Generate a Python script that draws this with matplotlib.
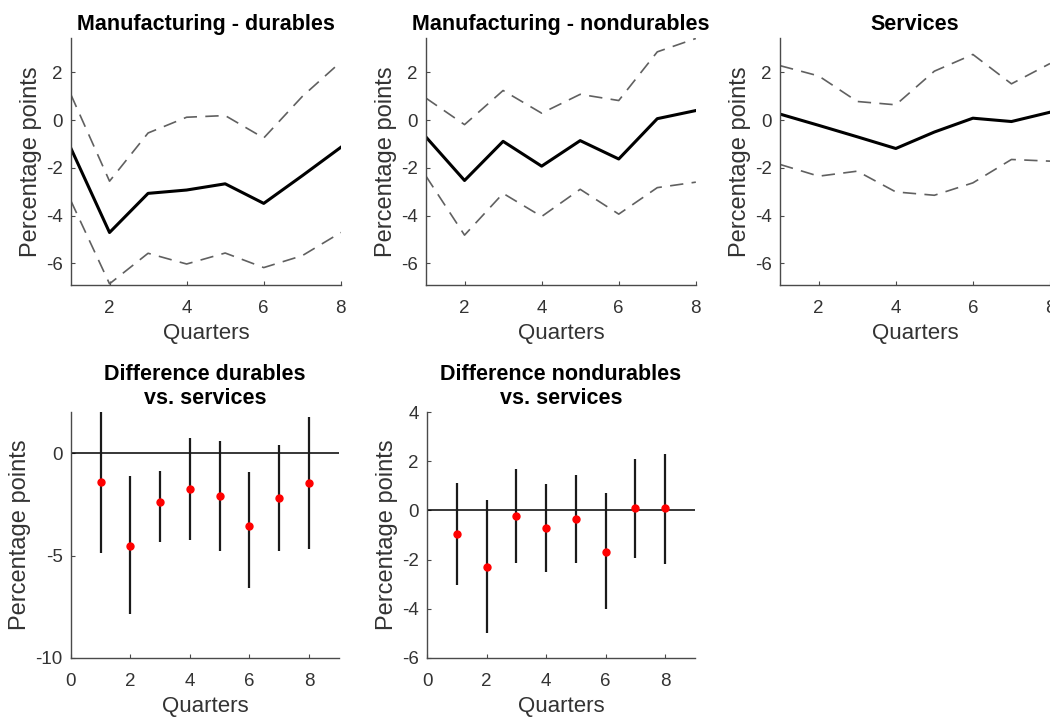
import matplotlib
matplotlib.use("Agg")
import matplotlib.pyplot as plt

plt.rcParams['font.family'] = ['Liberation Sans', 'DejaVu Sans']
plt.rcParams['axes.unicode_minus'] = False

# ------------------------
# data
# ------------------------
quarters = [1, 2, 3, 4, 5, 6, 7, 8]

dur_mid = [-1.19, -4.71, -3.07, -2.93, -2.67, -3.49, -2.33, -1.14]
dur_hi = [1.06, -2.56, -0.54, 0.12, 0.19, -0.75, 0.99, 2.44]
dur_lo = [-3.39, -6.86, -5.58, -6.03, -5.57, -6.18, -5.68, -4.71]

nondur_mid = [-0.71, -2.53, -0.89, -1.93, -0.86, -1.63, 0.06, 0.40]
nondur_hi = [0.92, -0.19, 1.24, 0.29, 1.08, 0.82, 2.86, 3.42]
nondur_lo = [-2.35, -4.82, -3.07, -4.04, -2.90, -3.94, -2.83, -2.60]

serv_mid = [0.25, -0.22, -0.70, -1.19, -0.50, 0.08, -0.06, 0.33]
serv_hi = [2.28, 1.85, 0.78, 0.64, 2.05, 2.75, 1.52, 2.37]
serv_lo = [-1.86, -2.35, -2.14, -3.01, -3.15, -2.63, -1.65, -1.72]

diff_dur = [-1.43, -4.52, -2.41, -1.76, -2.11, -3.54, -2.20, -1.46]
diff_dur_hi = [2.05, -1.14, -0.89, 0.73, 0.57, -0.94, 0.41, 1.74]
diff_dur_lo = [-4.88, -7.84, -4.36, -4.23, -4.80, -6.59, -4.76, -4.67]

diff_nondur = [-0.97, -2.28, -0.23, -0.70, -0.34, -1.68, 0.11, 0.08]
diff_nondur_hi = [1.12, 0.41, 1.70, 1.08, 1.46, 0.69, 2.11, 2.30]
diff_nondur_lo = [-3.04, -4.99, -2.15, -2.50, -2.15, -4.01, -1.92, -2.16]

top_titles = ["Manufacturing - durables", "Manufacturing - nondurables", "Services"]
bottom_titles = ["Difference durables\nvs. services", "Difference nondurables\nvs. services"]

AX_COL = "#4a4a4a"
TXT_COL = "#333333"


def style_axes(ax):
    for s in ["top", "right"]:
        ax.spines[s].set_visible(False)
    for s in ["left", "bottom"]:
        ax.spines[s].set_color(AX_COL)
        ax.spines[s].set_linewidth(1.0)
    ax.tick_params(direction="in", length=3, colors=AX_COL, labelcolor=TXT_COL,
                   labelsize=13.5)
    ax.tick_params(axis="x", pad=11)
    ax.tick_params(axis="y", pad=6)
    ax.set_xlabel("Quarters", fontsize=16, color=TXT_COL, labelpad=4)
    ax.set_ylabel("Percentage points", fontsize=17, color=TXT_COL, labelpad=3)


fig = plt.figure(figsize=(10.5, 7.17), dpi=100)

# top row: impulse responses with bands
top_lefts = [0.0676, 0.4057, 0.743]
top_data = [(dur_mid, dur_hi, dur_lo), (nondur_mid, nondur_hi, nondur_lo),
            (serv_mid, serv_hi, serv_lo)]
ymin = min(min(d[2]) for d in top_data)
ymax = max(max(d[1]) for d in top_data)

for left, title, (mid, hi, lo) in zip(top_lefts, top_titles, top_data):
    ax = fig.add_axes([left, 0.6025, 0.257, 0.3445])
    ax.plot(quarters, hi, color="#606060", lw=1.2, dashes=(8, 5))
    ax.plot(quarters, lo, color="#606060", lw=1.2, dashes=(8, 5))
    ax.plot(quarters, mid, color="black", lw=2.2)
    ax.set_xlim(1, 8)
    ax.set_ylim(ymin - 0.05, ymax + 0.02)
    ax.set_xticks([2, 4, 6, 8])
    ax.set_yticks([-6, -4, -2, 0, 2])
    ax.set_title(title, fontsize=15.5, fontweight="bold", color="black", pad=6)
    style_axes(ax)

# bottom row: differences with error bars
bot_specs = [
    (0.0676, diff_dur, diff_dur_hi, diff_dur_lo, (-10, 2), [-10, -5, 0]),
    (0.4067, diff_nondur, diff_nondur_hi, diff_nondur_lo, (-6, 4), [-6, -4, -2, 0, 2, 4]),
]
for (left, pts, hi, lo, ylim, yt), title in zip(bot_specs, bottom_titles):
    ax = fig.add_axes([left, 0.0823, 0.255, 0.343])
    ax.axhline(0, color="black", lw=1.1)
    ax.vlines(quarters, lo, hi, color="#1a1a1a", lw=1.6)
    ax.plot(quarters, pts, "o", color="red", markersize=5, zorder=3)
    ax.set_xlim(0, 9)
    ax.set_ylim(*ylim)
    ax.set_xticks([0, 2, 4, 6, 8])
    ax.set_yticks(yt)
    ax.set_title(title, fontsize=15.5, fontweight="bold", color="black", pad=6,
                 linespacing=1.2)
    style_axes(ax)

fig.savefig("out.png", dpi=100)
